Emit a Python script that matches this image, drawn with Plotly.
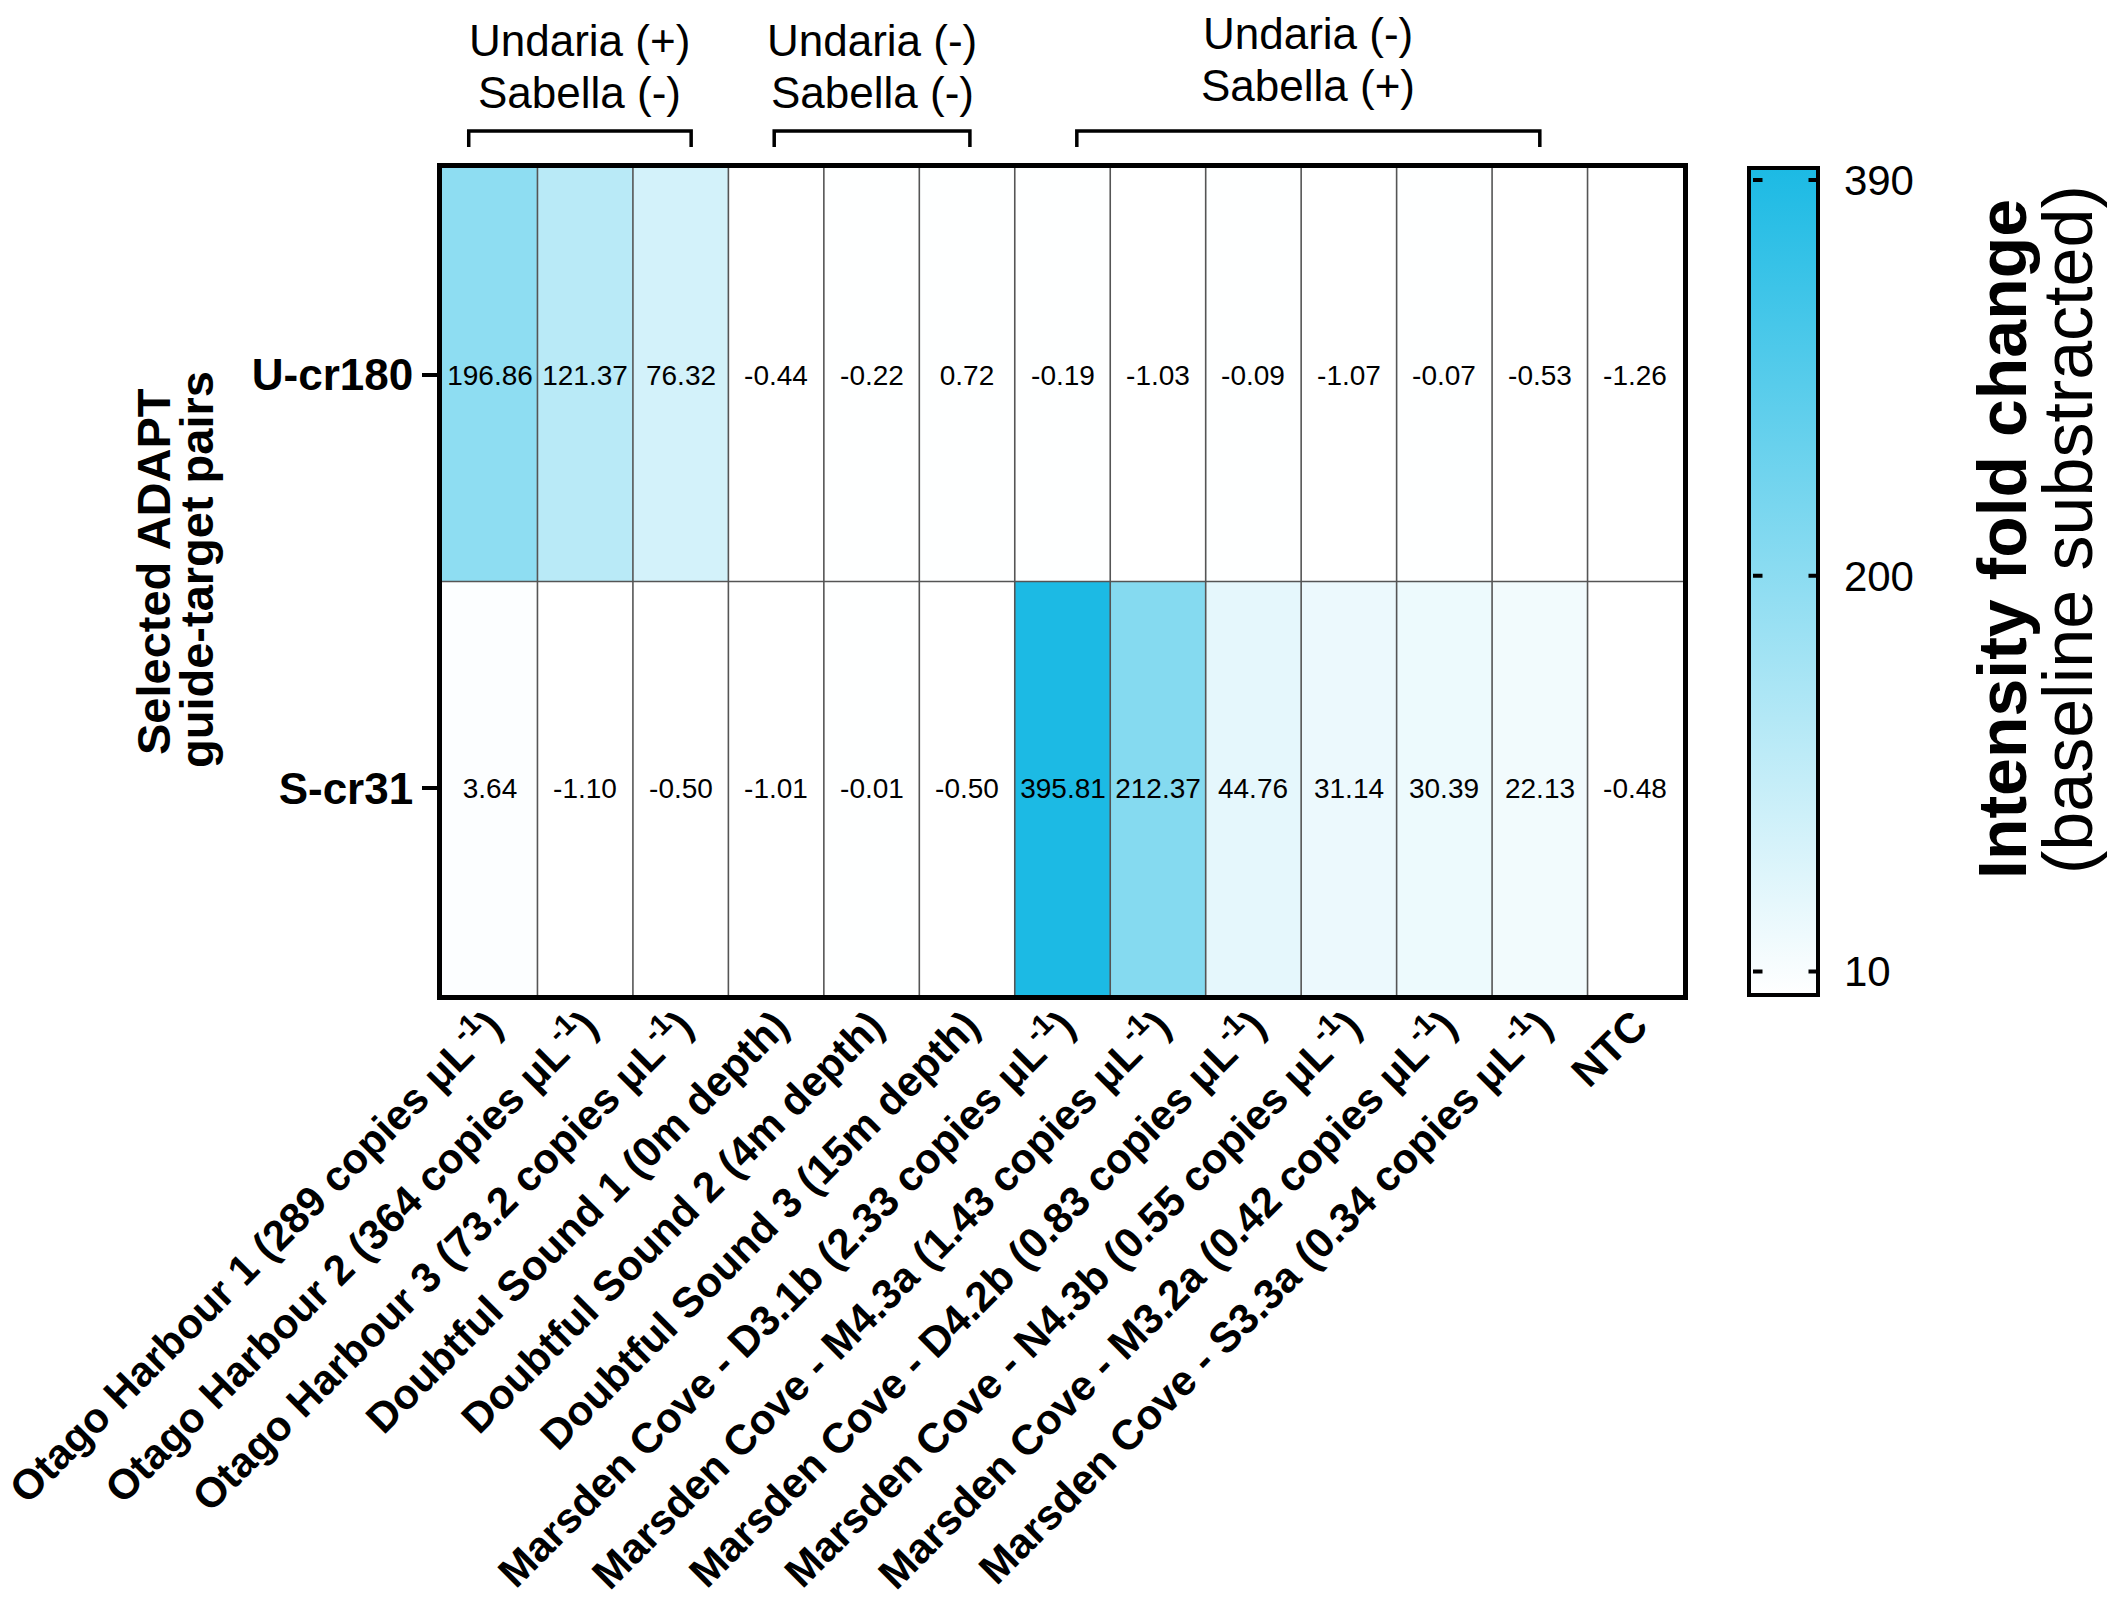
import plotly.graph_objects as go

# ---------------- data ----------------
sample_labels = [
    "Otago Harbour 1 (289 copies μL<sup>-1</sup>)",
    "Otago Harbour 2 (364 copies μL<sup>-1</sup>)",
    "Otago Harbour 3 (73.2 copies μL<sup>-1</sup>)",
    "Doubtful Sound 1 (0m depth)",
    "Doubtful Sound 2 (4m depth)",
    "Doubtful Sound 3 (15m depth)",
    "Marsden Cove - D3.1b (2.33 copies μL<sup>-1</sup>)",
    "Marsden Cove - M4.3a (1.43 copies μL<sup>-1</sup>)",
    "Marsden Cove - D4.2b (0.83 copies μL<sup>-1</sup>)",
    "Marsden Cove - N4.3b (0.55 copies μL<sup>-1</sup>)",
    "Marsden Cove - M3.2a (0.42 copies μL<sup>-1</sup>)",
    "Marsden Cove - S3.3a (0.34 copies μL<sup>-1</sup>)",
    "NTC",
]
pair_labels = ["U-cr180", "S-cr31"]
u_cr180 = [196.86, 121.37, 76.32, -0.44, -0.22, 0.72, -0.19, -1.03, -0.09, -1.07, -0.07, -0.53, -1.26]
s_cr31 = [3.64, -1.10, -0.50, -1.01, -0.01, -0.50, 395.81, 212.37, 44.76, 31.14, 30.39, 22.13, -0.48]
colorbar_ticks = [10, 200, 390]
group_lines = [
    ("Undaria (+)", "Sabella (-)"),
    ("Undaria (-)", "Sabella (-)"),
    ("Undaria (-)", "Sabella (+)"),
]

# ---------------- layout constants ----------------
W, H = 2128, 1603
L, R, T, B = 442, 1683, 168, 995
PW, PH = R - L, B - T
FONT = "Liberation Sans, Arial, Helvetica, sans-serif"

def px_x(px):
    return (px - L) / PW

def px_y(py):
    return (B - py) / PH

z = [u_cr180, s_cr31]
zmin = min(min(r) for r in z)
zmax = max(max(r) for r in z)
ncol = len(sample_labels)
nrow = len(pair_labels)

CB_L, CB_R = 1749, 1822   # colorbar outer edges (px)
CB_OUT = 4

fig = go.Figure()
fig.add_trace(go.Heatmap(
    z=z,
    x=list(range(ncol)),
    y=list(range(nrow)),
    zmin=zmin, zmax=zmax,
    colorscale=[[0, "rgb(255,255,255)"], [1, "rgb(28,186,228)"]],
    texttemplate="%{z:.2f}",
    textfont=dict(size=28, color="black", family=FONT),
    hoverinfo="skip",
    colorbar=dict(
        x=px_x(CB_L), xanchor="left", xpad=0,
        y=0.5, yanchor="middle", len=1, ypad=0,
        thickness=CB_R - CB_L - CB_OUT,
        outlinewidth=CB_OUT, outlinecolor="black",
        tickvals=colorbar_ticks,
        ticks="outside", ticklen=16, tickwidth=1, tickcolor="rgba(0,0,0,0)",
        tickfont=dict(size=42, color="black", family=FONT),
    ),
))

shapes = []
# cell separators
for i in range(ncol - 1):
    shapes.append(dict(type="line", xref="x", yref="paper", x0=i + 0.5, x1=i + 0.5, y0=0, y1=1,
                       line=dict(color="#555555", width=1.6), layer="above"))
for j in range(nrow - 1):
    shapes.append(dict(type="line", xref="paper", yref="y", x0=0, x1=1, y0=j + 0.5, y1=j + 0.5,
                       line=dict(color="#555555", width=1.6), layer="above"))

# brackets above groups (data-x extents)
bracket_spans = [(-0.22, 2.11), (2.98, 5.03), (6.15, 11.0)]
y_top = px_y(131)
y_bot = px_y(147)
for x0, x1 in bracket_spans:
    shapes.append(dict(type="path", xref="x", yref="paper",
                       path=f"M {x0},{y_bot} L {x0},{y_top} L {x1},{y_top} L {x1},{y_bot}",
                       line=dict(color="black", width=3.5)))

annotations = []
# inside ticks of the colorbar on both sides (annotation arrows are drawn above the colorbar)
TICK_PX = 11
for v in colorbar_ticks:
    yv = (v - zmin) / (zmax - zmin)
    for xe, dx in ((px_x(CB_L + CB_OUT), TICK_PX), (px_x(CB_R - CB_OUT), -TICK_PX)):
        annotations.append(dict(text="", x=xe, y=yv, xref="paper", yref="paper",
                                showarrow=True, arrowhead=0, arrowwidth=4, arrowcolor="black",
                                ax=dx, ay=0, standoff=0, startstandoff=0))

line_y = [(px_y(40), px_y(92)), (px_y(40), px_y(92)), (px_y(33), px_y(86))]
for (l1, l2), (x0, x1), (ya, yb) in zip(group_lines, bracket_spans, line_y):
    xc = (x0 + x1) / 2
    for txt, yy in ((l1, ya), (l2, yb)):
        annotations.append(dict(text=txt, x=xc, y=yy, xref="x", yref="paper", showarrow=False,
                                xanchor="center", yanchor="middle",
                                font=dict(size=44, color="black", family=FONT)))

ytitle_font = dict(size=47, color="black", family=FONT, weight="bold")
annotations.append(dict(text="Selected ADAPT", x=px_x(153), y=px_y(572),
                        xref="paper", yref="paper", showarrow=False, textangle=-90,
                        xanchor="center", yanchor="middle", font=ytitle_font))
annotations.append(dict(text="guide-target pairs", x=px_x(196), y=px_y(570),
                        xref="paper", yref="paper", showarrow=False, textangle=-90,
                        xanchor="center", yanchor="middle", font=ytitle_font))
annotations.append(dict(text="Intensity fold change", x=px_x(2002), y=px_y(539),
                        xref="paper", yref="paper", showarrow=False, textangle=-90,
                        xanchor="center", yanchor="middle",
                        font=dict(size=68, color="black", family=FONT, weight="bold")))
annotations.append(dict(text="(baseline substracted)", x=px_x(2068), y=px_y(530),
                        xref="paper", yref="paper", showarrow=False, textangle=-90,
                        xanchor="center", yanchor="middle",
                        font=dict(size=70, color="black", family=FONT)))

fig.update_layout(
    width=W, height=H,
    margin=dict(l=L, r=W - R, t=T, b=H - B, pad=0, autoexpand=False),
    paper_bgcolor="white", plot_bgcolor="white",
    shapes=shapes, annotations=annotations,
    font=dict(family=FONT, color="black"),
)
fig.update_xaxes(
    range=[-0.5, ncol - 0.5], tickvals=list(range(ncol)), ticktext=sample_labels,
    tickangle=-45, ticks="", showgrid=False, zeroline=False, ticklabelstandoff=-16,
    ticklabeloverflow="allow", automargin=False,
    showline=True, mirror=True, linecolor="black", linewidth=5,
    tickfont=dict(size=42, color="black", family=FONT, weight="bold"),
)
fig.update_yaxes(
    range=[nrow - 0.5, -0.5], tickvals=list(range(nrow)), ticktext=pair_labels,
    ticks="outside", ticklen=15, tickwidth=4, tickcolor="black",
    showgrid=False, zeroline=False, ticklabeloverflow="allow", automargin=False,
    showline=True, mirror=True, linecolor="black", linewidth=5,
    tickfont=dict(size=44, color="black", family=FONT, weight="bold"),
)

fig.write_html("out.html", config={"displayModeBar": False},
               post_script="document.body.style.margin='0';document.body.style.overflow='hidden';")
